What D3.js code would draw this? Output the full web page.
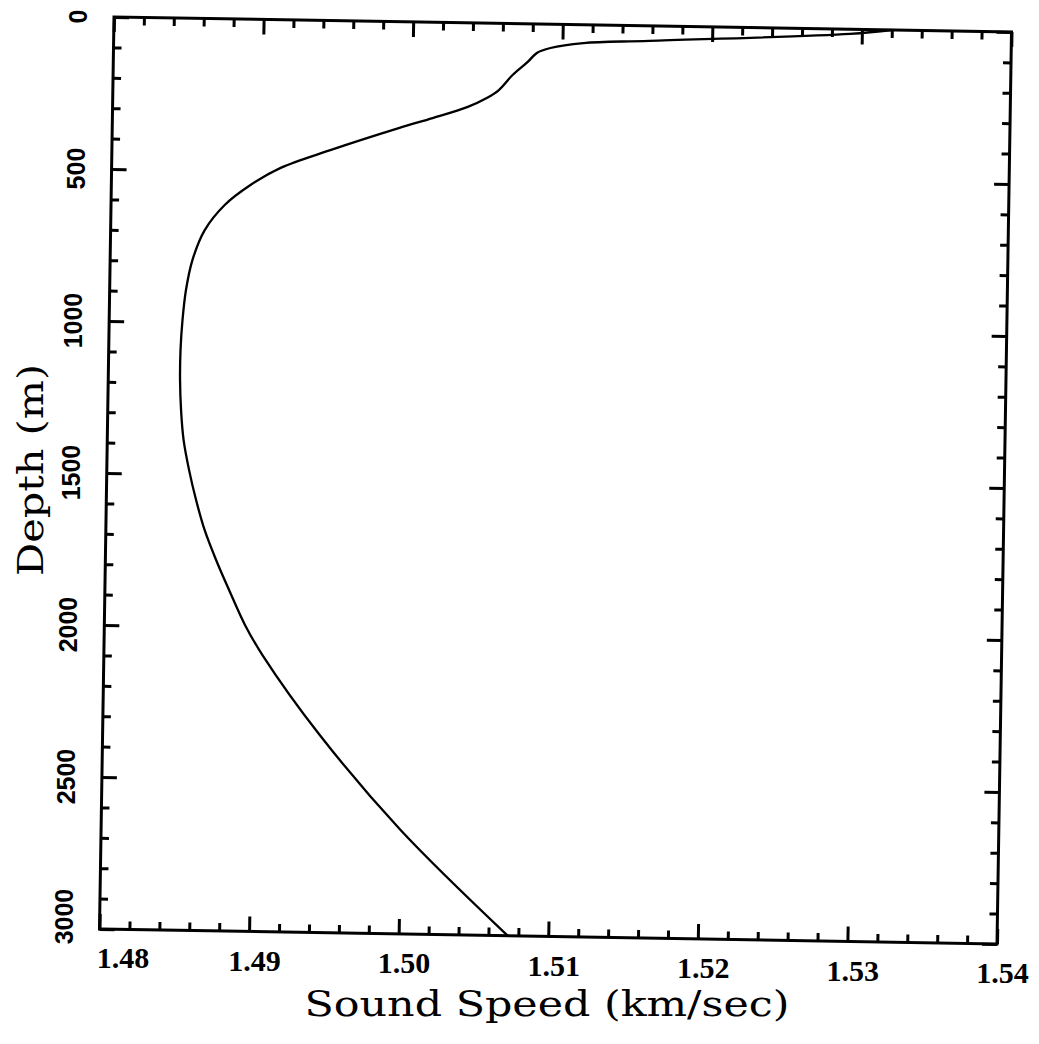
<!DOCTYPE html>
<html>
<head>
<meta charset="utf-8">
<script src="https://cdn.jsdelivr.net/npm/d3@7/dist/d3.min.js"></script>
<style>
  html, body { margin: 0; padding: 0; background: #fff; }
  svg { display: block; }
</style>
</head>
<body>
<svg id="chart" width="1039" height="1044"></svg>
<script>
// ---- data ----
const depth = [0, 15, 49, 60, 78, 95, 125, 169, 219, 246, 277, 315, 349, 426, 487, 545, 612, 695, 795, 894, 993, 1091, 1190, 1289, 1387, 1486, 1584, 1682, 1780, 1878, 1992, 2090, 2349, 2657, 3000];
const speed = [1.5320, 1.5292, 1.5158, 1.5114, 1.5092, 1.5083, 1.5077, 1.5067, 1.5058, 1.5050, 1.5037, 1.5014, 1.4992, 1.4946, 1.4913, 1.4893, 1.4876, 1.4863, 1.4855, 1.4851, 1.4849, 1.4848, 1.4848, 1.4849, 1.4851, 1.4855, 1.4860, 1.4866, 1.4874, 1.4883, 1.4894, 1.4906, 1.4945, 1.5000, 1.5073];
const xTickValues = [1.48, 1.49, 1.50, 1.51, 1.52, 1.53, 1.54];
const xTickLabels = ["1.48", "1.49", "1.50", "1.51", "1.52", "1.53", "1.54"];
const yTickValues = [0, 500, 1000, 1500, 2000, 2500, 3000];
const yTickLabels = ["0", "500", "1000", "1500", "2000", "2500", "3000"];
const xTitle = "Sound Speed (km/sec)";
const yTitle = "Depth (m)";

// ---- layout ----
const W = 897.5, H = 912;
// the scanned figure is slightly tilted: local frame -> page
const T = { a: 1, b: 0.0167, c: -0.0159, d: 1, e: 114, f: 17 };
const P = (lx, ly) => [T.a * lx + T.c * ly + T.e, T.b * lx + T.d * ly + T.f];

const svg = d3.select("#chart");
svg.append("rect").attr("width", 1039).attr("height", 1044).attr("fill", "#fff");
const g = svg.append("g").attr("transform", `matrix(${T.a},${T.b},${T.c},${T.d},${T.e},${T.f})`);

const x = d3.scaleLinear().domain([1.48, 1.54]).range([0, W]);
const y = d3.scaleLinear().domain([0, 3000]).range([0, H]);

const xMinor = d3.range(0, 31).map(i => 1.48 + i * 0.002).filter((v, i) => i % 5 !== 0);
const yMinor = d3.range(0, 31).map(i => i * 100).filter((v, i) => i % 5 !== 0);

function styleAxis(sel) {
  sel.select(".domain").remove();
  sel.selectAll(".tick line").attr("stroke", "#000").attr("stroke-width", 3);
  sel.selectAll("text").remove();
}
const MAJ = 15, MIN = 8;
// bottom
g.append("g").attr("transform", `translate(0,${H})`)
  .call(d3.axisBottom(x).tickValues(xTickValues).tickSize(-MAJ).tickFormat("")).call(styleAxis);
g.append("g").attr("transform", `translate(0,${H})`)
  .call(d3.axisBottom(x).tickValues(xMinor).tickSize(-MIN).tickFormat("")).call(styleAxis);
// top
g.append("g")
  .call(d3.axisTop(x).tickValues(xTickValues).tickSize(-MAJ).tickFormat("")).call(styleAxis);
g.append("g")
  .call(d3.axisTop(x).tickValues(xMinor).tickSize(-MIN).tickFormat("")).call(styleAxis);
// left
g.append("g")
  .call(d3.axisLeft(y).tickValues(yTickValues).tickSize(-MAJ).tickFormat("")).call(styleAxis);
g.append("g")
  .call(d3.axisLeft(y).tickValues(yMinor).tickSize(-MIN).tickFormat("")).call(styleAxis);
// right
g.append("g").attr("transform", `translate(${W},0)`)
  .call(d3.axisRight(y).tickValues(yTickValues).tickSize(-MAJ).tickFormat("")).call(styleAxis);
g.append("g").attr("transform", `translate(${W},0)`)
  .call(d3.axisRight(y).tickValues(yMinor).tickSize(-MIN).tickFormat("")).call(styleAxis);

// frame
g.append("rect").attr("x", 0).attr("y", 0).attr("width", W).attr("height", H)
  .attr("fill", "none").attr("stroke", "#000").attr("stroke-width", 3);

// curve
const pts = depth.map((d, i) => ({ depth: d, speed: speed[i] }));
const line = d3.line().x(d => x(d.speed)).y(d => y(d.depth)).curve(d3.curveCatmullRom.alpha(0.5));
g.append("path").datum(pts).attr("d", line)
  .attr("fill", "none").attr("stroke", "#000").attr("stroke-width", 2.3);

// texts are placed at tilted anchor points but drawn upright
const tg = svg.append("g");

// x tick labels
tg.selectAll(".xl").data(xTickValues).enter().append("text")
  .attr("transform", (d, i) => {
    const p = P(x(d) + (i === 0 ? 24 : 6), H + 39);
    return `translate(${p[0]},${p[1]})`;
  })
  .attr("text-anchor", "middle")
  .attr("font-family", "'Liberation Serif', serif")
  .attr("font-weight", "bold")
  .attr("font-size", 30)
  .text((d, i) => xTickLabels[i]);

// y tick labels
tg.selectAll(".yl").data(yTickValues).enter().append("text")
  .attr("transform", (d, i) => {
    const p = P(-27, y(d) - (i === yTickValues.length - 1 ? 12 : 0));
    return `translate(${p[0]},${p[1]}) rotate(-90)`;
  })
  .attr("text-anchor", "middle")
  .attr("font-family", "'Liberation Sans', sans-serif")
  .attr("font-weight", "bold")
  .attr("font-size", 25)
  .text((d, i) => yTickLabels[i]);

// axis titles
const pxT = P(W / 2, H + 80);
tg.append("text")
  .attr("transform", `translate(${pxT[0]},${pxT[1]})`)
  .attr("text-anchor", "middle")
  .attr("font-family", "'DejaVu Serif', serif")
  .attr("font-size", 36)
  .attr("textLength", 485).attr("lengthAdjust", "spacingAndGlyphs")
  .text(xTitle);
const pyT = P(-64, H / 2 - 2);
tg.append("text")
  .attr("transform", `translate(${pyT[0]},${pyT[1]}) rotate(-90)`)
  .attr("text-anchor", "middle")
  .attr("font-family", "'DejaVu Serif', serif")
  .attr("font-size", 36)
  .attr("textLength", 212).attr("lengthAdjust", "spacingAndGlyphs")
  .text(yTitle);
</script>
</body>
</html>
